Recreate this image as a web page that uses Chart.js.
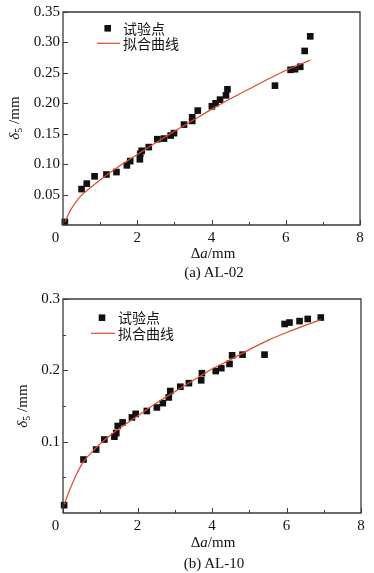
<!DOCTYPE html>
<html>
<head>
<meta charset="utf-8">
<script src="https://cdn.jsdelivr.net/npm/chart.js@4.4.1/dist/chart.umd.min.js"></script>
<style>
  html, body { margin:0; padding:0; background:#fff; }
  body { width:374px; height:573px; position:relative; overflow:hidden; }
  canvas { position:absolute; left:0; }
  .t { position:absolute; font-family:"Liberation Serif","DejaVu Serif",serif; font-size:15px; color:#111; white-space:nowrap; transform:translate(-50%,-50%); line-height:1; }
  .rot { transform:translate(-50%,-50%) rotate(-90deg); }
  sub { font-size:10px; vertical-align:-3px; }
  #err { position:absolute; left:0; top:0; font-size:10px; color:red; }
</style>
</head>
<body>
<canvas id="ca" width="374" height="285" style="top:0px"></canvas>
<canvas id="cb" width="374" height="288" style="top:285px"></canvas>

<div class="t" style="left:213px; top:253px;">&Delta;<i>a</i>/mm</div>
<div class="t" style="left:214px; top:272px;">(a) AL-02</div>
<div class="t rot" style="left:15px; top:118px;"><i>&delta;</i><sub>5</sub> /mm</div>

<div class="t" style="left:213px; top:542px;">&Delta;<i>a</i>/mm</div>
<div class="t" style="left:214px; top:563px;">(b) AL-10</div>
<div class="t rot" style="left:23px; top:406px;"><i>&delta;</i><sub>5</sub> /mm</div>
<div id="err"></div>

<script>
// ---- Data: (a) AL-02 ----
const aPointX = [0.05,0.50,0.64,0.85,1.17,1.44,1.72,1.81,2.07,2.08,2.12,2.31,2.54,2.72,2.90,2.99,3.26,3.48,3.48,3.63,4.01,4.11,4.23,4.39,4.43,5.71,6.13,6.25,6.39,6.51,6.66];
const aPointY = [0.005,0.059,0.068,0.080,0.083,0.087,0.098,0.105,0.108,0.117,0.122,0.128,0.141,0.142,0.147,0.151,0.165,0.171,0.177,0.188,0.195,0.200,0.206,0.213,0.223,0.229,0.255,0.256,0.260,0.286,0.310];
const aFitX = [0.05,0.2,0.35,0.5,0.75,1.0,1.5,2.0,2.5,3.0,3.5,4.0,4.5,5.0,5.5,6.0,6.66];
const aFitY = [0.005,0.024,0.038,0.049,0.062,0.074,0.096,0.116,0.135,0.154,0.172,0.190,0.207,0.223,0.239,0.254,0.271];

// ---- Data: (b) AL-10 ----
const bPointX = [0.03,0.55,0.89,1.11,1.38,1.43,1.47,1.60,1.85,1.95,2.25,2.52,2.68,2.84,2.88,3.15,3.38,3.71,3.73,4.10,4.25,4.47,4.54,4.82,5.41,5.95,6.08,6.35,6.57,6.92];
const bPointY = [0.011,0.075,0.089,0.103,0.107,0.112,0.122,0.127,0.134,0.139,0.143,0.148,0.154,0.162,0.171,0.177,0.182,0.186,0.196,0.199,0.203,0.209,0.221,0.222,0.222,0.265,0.267,0.269,0.272,0.274];
const bFitX = [0.03,0.2,0.35,0.55,0.75,1.0,1.5,2.0,2.5,3.0,3.5,4.0,4.5,5.0,5.5,6.0,6.5,6.92];
const bFitY = [0.012,0.035,0.053,0.072,0.084,0.097,0.118,0.136,0.154,0.170,0.186,0.202,0.215,0.229,0.242,0.253,0.263,0.271];

// ---- Ticks ----
const xTickValues = [0,2,4,6,8];
const xMinorValues = [1,3,5,7];
const aYTicks = [0.05,0.10,0.15,0.20,0.25,0.30,0.35];
const aYMinor = [];
const bYTicks = [0.1,0.2,0.3];
const bYMinor = [0.05,0.15,0.25];
const legendLabels = ['试验点','拟合曲线'];

const FRAME = '#3a3a3a';
const FIT_COLOR = '#e2482f';
const PT_COLOR = '#111111';
const tickFont = {family:'"Liberation Serif", "DejaVu Serif", serif', size:15};

const cfgs = {};

const framePlugin = {
  id:'frame',
  afterDraw(chart) {
    try {
      const o = cfgs[chart.canvas.id];
      const ctx = chart.ctx, a = chart.chartArea;
      const xs = chart.scales.x, ys = chart.scales.y;
      const L = a.left, R = a.right, T = a.top, B = a.bottom;
      ctx.save();
      ctx.setLineDash([]);
      ctx.strokeStyle = FRAME;
      ctx.lineWidth = 1.3;
      ctx.beginPath();
      ctx.moveTo(L, T); ctx.lineTo(R, T); ctx.lineTo(R, B); ctx.lineTo(L, B); ctx.closePath();
      ctx.stroke();
      ctx.lineWidth = 1;
      ctx.beginPath();
      for (const v of o.xMajor) { const p = Math.round(xs.getPixelForValue(v)) + 0.5; ctx.moveTo(p, B); ctx.lineTo(p, B - 5); }
      for (const v of o.xMinor) { const p = Math.round(xs.getPixelForValue(v)) + 0.5; ctx.moveTo(p, B); ctx.lineTo(p, B - 3); }
      for (const v of o.yMajor) { const p = Math.round(ys.getPixelForValue(v)) + 0.5; ctx.moveTo(L, p); ctx.lineTo(L + 5, p); }
      for (const v of o.yMinor) { const p = Math.round(ys.getPixelForValue(v)) + 0.5; ctx.moveTo(L, p); ctx.lineTo(L + 3, p); }
      ctx.stroke();

      const G = o.legend;
      ctx.fillStyle = PT_COLOR;
      ctx.fillRect(G.sqX - 3.3, G.sqY - 3.3, 6.6, 6.6);
      ctx.strokeStyle = FIT_COLOR;
      ctx.lineWidth = 1.2;
      ctx.beginPath(); ctx.moveTo(G.lineX0, G.lineY); ctx.lineTo(G.lineX1, G.lineY); ctx.stroke();
      ctx.fillStyle = '#111';
      ctx.font = '14px "Noto Sans CJK SC", sans-serif';
      ctx.textBaseline = 'middle';
      ctx.textAlign = 'left';
      ctx.fillText(legendLabels[0], G.textX, G.sqY);
      ctx.fillText(legendLabels[1], G.textX, G.lineY);
      ctx.restore();
    } catch (e) {
      document.getElementById('err').textContent += ' ' + e.message;
    }
  }
};

function makeChart(id, px, py, fx, fy, yMax, yStep, yMajor, yMinor, pad, digits, legend) {
  cfgs[id] = { xMajor:xTickValues, xMinor:xMinorValues, yMajor:yMajor, yMinor:yMinor, legend:legend };
  const ctx = document.getElementById(id).getContext('2d');
  return new Chart(ctx, {
    type:'scatter',
    data:{ datasets:[
      { label:legendLabels[0], data:px.map((x,i)=>({x:x, y:py[i]})), pointStyle:'rect', pointRadius:4.7,
        backgroundColor:PT_COLOR, borderColor:PT_COLOR, borderWidth:0, clip:false, order:2 },
      { label:legendLabels[1], data:fx.map((x,i)=>({x:x, y:fy[i]})), showLine:true, pointRadius:0,
        borderColor:FIT_COLOR, borderWidth:1.2, cubicInterpolationMode:'monotone', fill:false, clip:false, order:1 }
    ]},
    options:{
      responsive:false, animation:false, events:[],
      layout:{ padding:pad },
      plugins:{ legend:{display:false}, tooltip:{enabled:false} },
      scales:{
        x:{ type:'linear', min:0, max:8,
            ticks:{ stepSize:2, font:tickFont, color:'#111', padding:4, maxRotation:0,
              callback:(v)=> v===0 ? '0\u00a0\u00a0\u00a0\u00a0' : String(v) },
            grid:{ display:false, drawTicks:false, tickLength:0 }, border:{ display:false },
            afterFit(s){ s.height = 60; } },
        y:{ type:'linear', min:0, max:yMax,
            ticks:{ stepSize:yStep, font:tickFont, color:'#111', padding:3,
              callback:(v)=> Math.abs(v) < 1e-9 ? '' : (Math.round(v*1000)/1000).toFixed(digits) },
            grid:{ display:false, drawTicks:false, tickLength:0 }, border:{ display:false },
            afterFit(s){ s.width = 63; } }
      }
    },
    plugins:[framePlugin]
  });
}

makeChart('ca', aPointX, aPointY, aFitX, aFitY, 0.35, 0.05, aYTicks, aYMinor,
  {left:0, right:14, top:11, bottom:0}, 2,
  {sqX:107.7, sqY:28.3, lineX0:97, lineX1:120, lineY:43.3, textX:123});
makeChart('cb', bPointX, bPointY, bFitX, bFitY, 0.3, 0.1, bYTicks, bYMinor,
  {left:0, right:13, top:14, bottom:0}, 1,
  {sqX:102, sqY:32.7, lineX0:91, lineX1:115, lineY:48.3, textX:118});
</script>
</body>
</html>
